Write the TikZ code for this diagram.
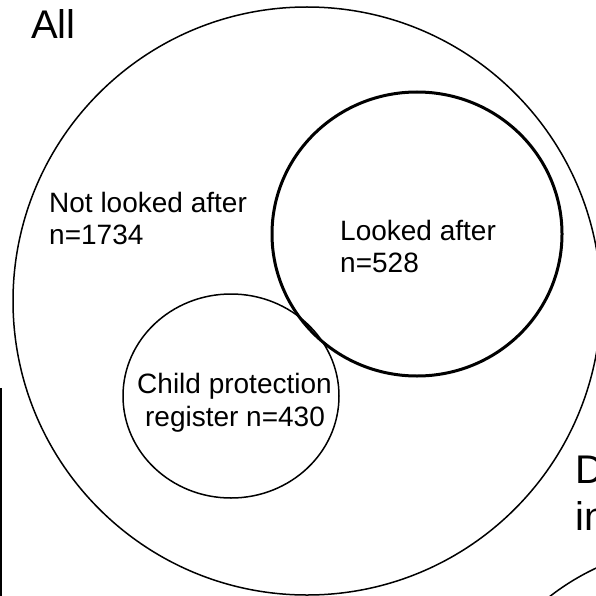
\documentclass[tikz,border=0pt]{standalone}
\usepackage{fontspec}
\setmainfont{Liberation Sans}
\begin{document}
\begin{tikzpicture}[x=1pt,y=-1pt,
  thinline/.style={line width=1.5pt},
  thickline/.style={line width=3pt},
  biglabel/.style={font=\fontsize{40}{46}\selectfont, inner sep=0pt, anchor=base west},
  setlabel/.style={font=\fontsize{28}{32}\selectfont, inner sep=0pt, anchor=base west},
  setlabelc/.style={font=\fontsize{28}{32}\selectfont, inner sep=0pt, anchor=base}]
\useasboundingbox (0,0) rectangle (596,596);
\clip (0,0) rectangle (596,596);

% outer set
\draw[thinline] (307,301) circle [radius=294pt];
% looked-after set
\draw[thickline] (417,234) ellipse [x radius=145pt, y radius=142pt];
% child protection register set
\draw[thinline] (231,396) ellipse [x radius=108pt, y radius=102pt];
% neighbouring panel edges
\draw[thinline] (1,388) -- (1,600);
\draw[thinline] (700,790) circle [radius=245pt];

% labels
\node[biglabel] (all) at (31,39) {All};
\node[setlabel] (nla1) at (49,212) {Not looked after};
\node[setlabel] (nla2) at (49,244) {n=1734};
\node[setlabel] (la1) at (340,240) {Looked after};
\node[setlabel] (la2) at (340,272) {n=528};
\node[setlabelc] (cp1) at (234.5,393) {Child protection};
\node[setlabelc] (cp2) at (235,426) {register n=430};
\node[biglabel] (d1) at (575,483) {D};
\node[biglabel] (d2) at (575,530) {in};
\end{tikzpicture}
\end{document}
